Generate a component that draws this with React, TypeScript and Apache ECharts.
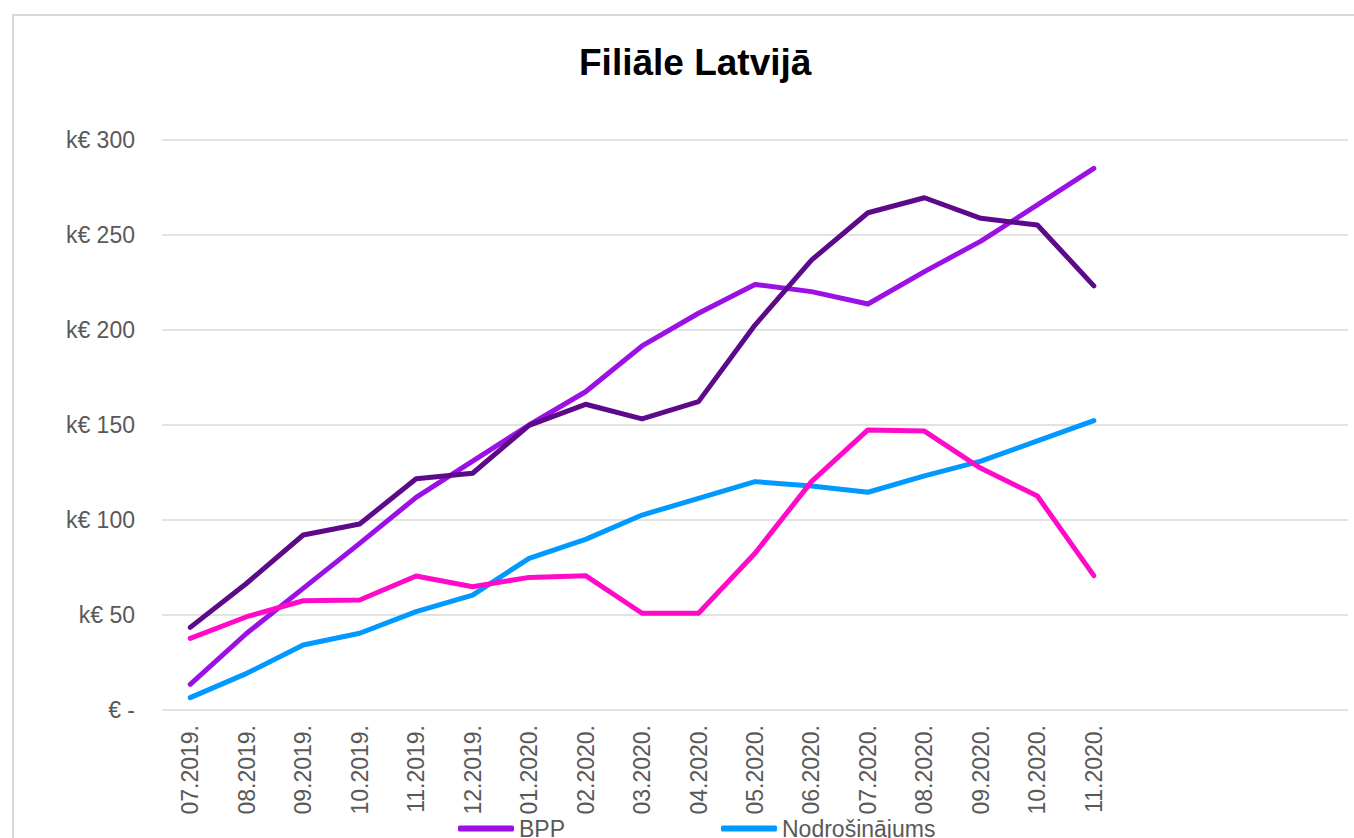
import React, { useEffect, useRef } from "react";
import * as echarts from "echarts";

const categories = [
  "07.2019.", "08.2019.", "09.2019.", "10.2019.", "11.2019.", "12.2019.",
  "01.2020.", "02.2020.", "03.2020.", "04.2020.", "05.2020.", "06.2020.",
  "07.2020.", "08.2020.", "09.2020.", "10.2020.", "11.2020.",
  "", "", "", "",
];

const bpp = [13.5, 40.4, 64, 87.7, 111.9, 131, 150, 167.5, 191.6, 208.8, 224, 220.2, 213.7, 230.7, 246.8, 265.8, 285.1];
const nodrosinajums = [6.5, 19.3, 34.2, 40.4, 51.8, 60.5, 79.8, 89.8, 102.6, 111.4, 120.2, 117.9, 114.6, 123.2, 131, 141.6, 152.3];
const series3 = [43.5, 66.7, 92.1, 97.9, 121.7, 124.6, 149.8, 160.9, 153.2, 162.3, 202.6, 236.8, 261.7, 269.6, 258.8, 255.3, 223.2];
const series4 = [37.7, 49.1, 57.5, 57.9, 70.5, 64.9, 69.8, 70.7, 50.9, 50.9, 82.5, 120.2, 147.4, 146.8, 127.2, 112.6, 70.7];

const yTicks = [0, 50, 100, 150, 200, 250, 300];

const FONT = "'Liberation Sans', Arial, sans-serif";

export default function App() {
  const ref = useRef<HTMLDivElement>(null);
  useEffect(() => {
    if (!ref.current) return;
    const chart = echarts.init(ref.current, null, { renderer: "svg" });
    const line = (name: string, data: number[], color: string) => ({
      name,
      type: "line",
      data,
      symbol: "none",
      showSymbol: false,
      lineStyle: { color, width: 5, cap: "round", join: "round" },
      itemStyle: { color },
    });
    chart.setOption({
      animation: false,
      backgroundColor: "#ffffff",
      title: {
        text: "Filiāle Latvijā",
        left: 574,
        top: 39,
        textStyle: { fontFamily: FONT, fontSize: 37, fontWeight: "bold", color: "#000000" },
      },
      graphic: [
        {
          type: "rect",
          shape: { x: 13, y: 15, width: 1400, height: 900 },
          style: { fill: "none", stroke: "#D9D9D9", lineWidth: 2 },
          silent: true,
        },
      ],
      legend: [
        {
          data: ["BPP"],
          left: 453,
          top: 812,
          icon: "roundRect",
          itemWidth: 56,
          itemHeight: 6,
          textStyle: { fontFamily: FONT, fontSize: 23, color: "#595959" },
        },
        {
          data: ["Nodrošinājums"],
          left: 716,
          top: 812,
          icon: "roundRect",
          itemWidth: 56,
          itemHeight: 6,
          textStyle: { fontFamily: FONT, fontSize: 23, color: "#595959" },
        },
      ],
      grid: { left: 162, right: 6, top: 140, bottom: 128, containLabel: false },
      xAxis: {
        type: "category",
        data: categories,
        boundaryGap: true,
        axisLine: { show: false },
        axisTick: { show: false },
        axisLabel: {
          interval: 0,
          rotate: 90,
          margin: 15,
          fontFamily: FONT,
          fontSize: 23,
          color: "#595959",
        },
      },
      yAxis: {
        type: "value",
        min: yTicks[0],
        max: yTicks[yTicks.length - 1],
        interval: 50,
        axisLine: { show: false },
        axisTick: { show: false },
        splitLine: { lineStyle: { color: "#D9D9D9", width: 1.5 } },
        axisLabel: {
          margin: 27,
          fontFamily: FONT,
          fontSize: 23,
          color: "#595959",
          formatter: (v: number) => (v === 0 ? "€ -" : "k€ " + v),
        },
      },
      series: [
        line("BPP", bpp, "#9B10E4"),
        line("Nodrošinājums", nodrosinajums, "#0099FF"),
        line("Series 3", series3, "#5C0A8A"),
        line("Series 4", series4, "#FF0AC8"),
      ],
    });
    return () => chart.dispose();
  }, []);
  return (
    <div
      ref={ref}
      style={{ position: "absolute", left: 0, top: 0, width: 1354, height: 838 }}
    />
  );
}
